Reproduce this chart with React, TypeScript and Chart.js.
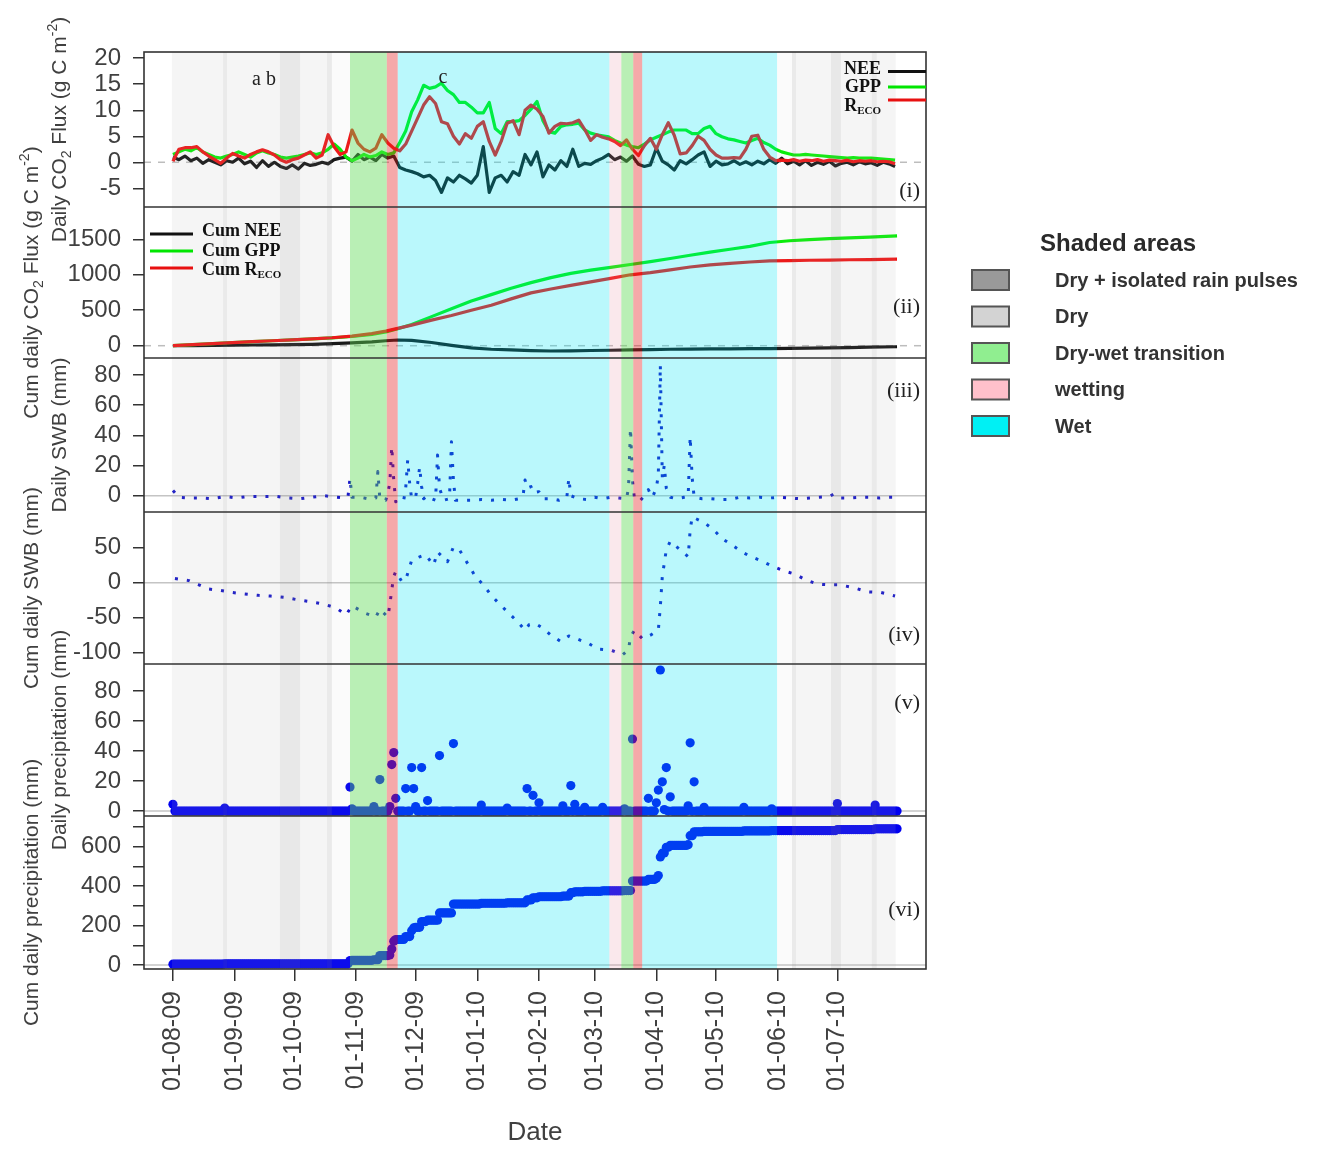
import { useEffect, useRef } from 'react';
import { Chart, registerables } from 'chart.js';

Chart.register(...registerables);

const SANS = '"Liberation Sans", Arial, sans-serif';
const SERIF = '"Liberation Serif", "Times New Roman", serif';
const W = 1322;
const H = 1149;

// ---------- x axis (days since 1 Aug 2009) ----------
const monthDays = [0, 31, 61, 92, 122, 153, 184, 212, 243, 273, 304, 334];
const monthLabels = ['01-08-09', '01-09-09', '01-10-09', '01-11-09', '01-12-09', '01-01-10', '01-02-10', '01-03-10', '01-04-10', '01-05-10', '01-06-10', '01-07-10'];

// ---------- panel (i): daily CO2 fluxes ----------
const fluxDays = [0, 3, 6, 9, 12, 15, 18, 21, 24, 27, 30, 33, 36, 39, 42, 45, 48, 51, 54, 57, 60, 63, 66, 69, 72, 75, 78, 81, 84, 87, 90, 93, 96, 99, 102, 105, 108, 111, 114, 117, 120, 123, 126, 129, 132, 135, 138, 141, 144, 147, 150, 153, 156, 159, 162, 165, 168, 171, 174, 177, 180, 183, 186, 189, 192, 195, 198, 201, 204, 207, 210, 213, 216, 219, 222, 225, 228, 231, 234, 237, 240, 243, 246, 249, 252, 255, 258, 261, 264, 267, 270, 273, 276, 279, 282, 285, 288, 291, 294, 297, 300, 303, 306, 309, 312, 315, 318, 321, 324, 327, 330, 333, 336, 339, 342, 345, 348, 351, 354, 357, 360, 363];
const recoDaily = [
  0.2, 2.5, 2.8, 2.8, 3, 2, 1.2, 0.5, -0.2, 0.8,
  1.7, 1.2, 0.8, 1.5, 2, 2.4, 2, 1.4, 0.5, 0,
  0.5, 0.8, 1.4, 2, 0.8, 1.4, 5.3, 3, 1.5, 2,
  6.2, 3.7, 2.5, 2, 2.7, 5.3, 3.7, 2.7, 2.2, 3.5,
  6, 8.5, 11, 12.6, 11.3, 7.8, 7.4, 5, 3.5, 5.5,
  4.6, 6.9, 7.8, 4, 1.4, 4, 7.5, 8, 5.3, 10,
  11, 10.2, 8.8, 5.6, 6.9, 7.5, 7.4, 7.6, 8.1, 6.3,
  4.2, 5.3, 4.8, 4.5, 4, 3.2, 4.3, 2.5, 1.3, 3.2,
  4.6, 2.5, 5.3, 7.6, 5.2, 1.6, 1.8, 3.2, 5, 4.2,
  2.5, 1.4, 0.8, 0.8, 0.9, 0.8, 2.5, 5, 5.2, 2.5,
  1, 0.3, 0.4, 0.3, 0.5, 0.2, 0.4, 0.3, 0.5, 0.2,
  0.4, 0.3, 0.2, 0.4, 0.1, 0.3, 0.2, 0.3, 0.1, 0.2,
  0.1, -0.3,
];
const gppDaily = [
  1.5, 2, 2.5, 2.2, 2.8, 2, 1.5, 1, 0.8, 1.2,
  1.5, 2, 1.5, 1, 1.8, 2.2, 1.8, 1.5, 1, 0.8,
  1, 1.2, 1.5, 1.8, 1.5, 1.8, 2.5, 3.5, 2.5, 1,
  0.3, 0.8, 1.5, 1, 1.3, 2, 1.5, 1.8, 3.8, 6,
  9.7, 12, 14.8, 14.2, 14.5, 15.2, 13.8, 13, 11.5, 11.5,
  10.6, 9.5, 9.5, 11.5, 6.5, 5.5, 7.8, 7.8, 8, 9,
  10.2, 11.7, 8, 5.9, 5.6, 6.9, 7.2, 7.3, 7.5, 6.2,
  5.6, 5.3, 5.1, 4.9, 4.2, 3.7, 3.3, 3, 2.8, 3.5,
  4.3, 4.8, 5.3, 5.8, 6.2, 6.2, 6.2, 5.5, 5.5, 6.5,
  6.9, 5.5, 4.9, 4.5, 4.3, 4, 3.7, 4.2, 4.6, 3.8,
  3.3, 2.5, 2, 1.7, 1.4, 1.4, 1.5, 1.4, 1.3, 1.2,
  1.1, 1, 0.9, 0.8, 0.9, 0.8, 0.8, 0.8, 0.7, 0.6,
  0.5, 0.4,
];
const neeDaily = [
  1, 0.5, 1.2, 0.3, 0.8, -0.2, 0.5, 0, -0.5, 0.3,
  0, 0.8, -0.3, 0.2, -1, 0.3, -0.8, 0, -0.8, -1.2,
  -0.5, -1.3, -0.2, -0.6, -0.4, 0, -0.3, 0.5, 0.8, 1,
  0.2, 1.5, 0.5, 1, 0.3, 1.5, 0.8, 1.2, -1, -1.5,
  -1.8, -2.2, -2.8, -2.5, -3.5, -5.8, -3, -3.8, -2.5, -3.2,
  -4, -2.5, 3, -5.8, -3, -2.5, -3.8, -1.8, -2.5, 1.5,
  -0.5, 2, -2.8, -0.5, -1.5, 0.3, -0.8, 2.5, -0.8, -0.2,
  -0.4, 0.3, 0.8, 1.5, 0.5, 1, 0.2, 1.2, -0.4, -0.8,
  -0.5, 2.7, 0.2, -0.5, -1.5, 0.3, -0.3, 0.5, 1.4, 2,
  -0.8, 0.2, -0.5, -0.3, 0.3, -0.4, 0.1, -0.5, 0.2, -0.3,
  0.5, -0.2, 0.8, -0.3, 0.2, -0.5, 0.3, -0.6, 0, -0.4,
  0.2, -0.7, -0.2, 0, -0.5, 0.1, -0.3, -0.1, -0.6, 0,
  -0.3, -0.8,
];

// ---------- panel (ii): cumulative CO2 fluxes ----------
const cumDays = [0, 10, 20, 30, 40, 50, 60, 70, 80, 90, 100, 107, 113, 120, 130, 140, 150, 160, 170, 180, 190, 200, 210, 220, 230, 240, 250, 260, 270, 280, 290, 300, 310, 320, 330, 340, 350, 364];
const cumGpp = [0, 15, 30, 45, 58, 70, 82, 95, 110, 130, 160, 195, 240, 300, 410, 520, 630, 720, 810, 890, 960, 1020, 1065, 1105, 1145, 1185, 1230, 1275, 1320, 1360, 1400, 1455, 1480, 1495, 1510, 1520, 1530, 1550];
const cumReco = [0, 15, 30, 44, 58, 70, 82, 96, 112, 135, 170, 205, 245, 290, 360, 425, 500, 570, 660, 745, 800, 850, 900, 950, 1000, 1030, 1070, 1110, 1140, 1160, 1180, 1195, 1200, 1205, 1208, 1212, 1215, 1220];
const cumNee = [0, 2, 5, 8, 10, 12, 15, 20, 28, 40, 55, 70, 80, 75, 45, 5, -30, -50, -60, -70, -75, -72, -68, -64, -60, -55, -50, -48, -46, -44, -42, -40, -38, -35, -30, -26, -20, -15];

// ---------- panel (iii): daily soil water balance ----------
const swbDays = [
  0, 3, 8, 14, 20, 26, 32, 38, 45, 52,
  58, 64, 70, 76, 82, 86, 88, 89, 90, 94,
  98, 102, 103, 104, 107, 108, 109, 110, 111, 112,
  114, 116, 117, 118, 119, 120, 122, 123, 124, 125,
  126, 128, 130, 132, 133, 134, 136, 139, 140, 141,
  142, 146, 150, 155, 160, 165, 170, 174, 176, 177,
  178, 180, 181, 184, 186, 190, 194, 198, 199, 200,
  204, 208, 212, 216, 220, 224, 228, 229, 230, 231,
  232, 235, 237, 239, 241, 243, 244, 245, 246, 247,
  248, 250, 253, 257, 259, 260, 261, 262, 266, 270,
  275, 280, 285, 290, 295, 300, 305, 310, 315, 320,
  325, 330, 332, 335, 340, 345, 350, 355, 360, 364,
];
const swbDaily = [
  3.5, -1, -1.5, -1.5, -2, -0.5, -1.5, -0.5, -0.5, -0.5,
  -1.5, -2, -1, 0, -1, -1.5, -0.5, 11.5, -1, -1,
  -2, -1.5, 16, -2, -3, 2, 8, 32.5, 10, -4,
  -2, -3, 5, 23.7, 8, -2, -1, 8, 19, 6,
  -2, 0, -2, -3, 27, 5, -3, -2, 35.8, 10,
  -3, -3, -3, -2.5, -3, -2.5, -3, -2, 0, 10.4,
  5, 6, 2, 2.7, -2, -2, -3, -1, 11.5, 0,
  -2, -2.5, -1, -2, -1, -1.5, -2, 5, 44.7, 10,
  -2, -3, 0, 4, -1, 5, 14, 86.7, 12, 20,
  5, -1, -2, -1, -0.5, 39, 12, -1, -2, -2,
  -2.5, -2.5, -1, -1.5, -1, -1.5, -1, -1.5, -2, -1.5,
  -1, -0.5, 1, -1.5, -1.5, -1, -1, -1.5, -1, -1,
];

// ---------- panel (iv): cumulative soil water balance ----------
const cumSwbDays = [
  1, 8, 13, 18, 24, 30, 36, 43, 49, 56,
  62, 69, 75, 82, 87, 90, 97, 102, 104, 108,
  109, 110, 111, 112, 115, 117, 120, 124, 127, 131,
  133, 138, 141, 144, 148, 152, 156, 160, 164, 169,
  174, 177, 179, 182, 186, 190, 195, 199, 203, 209,
  214, 220, 226, 229, 230, 232, 236, 240, 244, 245,
  246, 247, 248, 250, 255, 259, 260, 261, 267, 272,
  276, 281, 286, 290, 296, 301, 307, 313, 318, 324,
  330, 335, 342, 349, 356, 363,
];
const cumSwb = [
  6, 3, -3, -9, -11, -14, -16, -18, -19, -21,
  -24, -27, -30, -36, -46, -33, -44, -49, -38, -49,
  -32, -10, 9, 16, 2, 4, 32, 37, 40, 25,
  44, 30, 51, 47, 28, 9, -3, -18, -30, -44,
  -58, -68, -60, -58, -65, -75, -84, -76, -80, -87,
  -95, -96, -103, -96, -77, -68, -80, -75, -68, -34,
  9, 28, 47, 59, 47, 37, 75, 94, 86, 75,
  63, 54, 44, 38, 31, 24, 17, 12, 4, -2,
  -3, -3, -7, -13, -14, -19,
];

// ---------- panel (v)/(vi): rain events (all other days: 0 mm) ----------
const lastDay = 364;
const rainDays = [0, 26, 89, 90, 101, 104, 109, 110, 111, 112, 117, 120, 121, 122, 125, 128, 134, 141, 155, 168, 178, 181, 184, 196, 200, 202, 207, 216, 227, 231, 239, 243, 244, 245, 246, 247, 248, 250, 259, 260, 262, 267, 287, 301, 334, 353];
const rainMm = [4.5, 2, 16, 1.5, 3, 21, 3, 31, 39, 8.5, 15, 29, 15, 3, 29, 7, 37, 45, 4, 2, 15, 10.5, 5.5, 3.5, 17, 4.5, 2.5, 2.5, 1.5, 48, 8.5, 5.5, 14, 94, 19.5, 1, 29, 9.5, 3.5, 45.5, 19.5, 2.5, 2.5, 1.5, 5, 4];

// ---------- panel axes ----------
const axisIds = ['y1', 'y2', 'y3', 'y4', 'y5', 'y6'];
const panelWeights = [155, 151, 154, 152, 152, 153];
const panelMin = [-8.6, -173.5, -10.8, -116.1, -3.3, -20];
const panelMax = [21.2, 1956, 91.3, 101, 98, 756];
const panelTicks = [
  [-5, 0, 5, 10, 15, 20],
  [0, 500, 1000, 1500],
  [0, 20, 40, 60, 80],
  [-100, -50, 0, 50],
  [0, 20, 40, 60, 80],
  [0, 100, 200, 300, 400, 500, 600, 700],
];
const panelTags = ['(i)', '(ii)', '(iii)', '(iv)', '(v)', '(vi)'];

// ---------- shaded periods (days) ----------
const bandStart = [-0.5, 25.2, 27.2, 53.8, 63.9, 77.4, 79.9, 89, 107.5, 113, 219.4, 225.4, 231.4, 235.9, 303.7, 311.2, 313.2, 330.8, 335.8, 351.3, 353.8];
const bandEnd = [25.2, 27.2, 53.8, 63.9, 77.4, 79.9, 89, 107.5, 113, 219.4, 225.4, 231.4, 235.9, 303.7, 311.2, 313.2, 330.8, 335.8, 351.3, 353.8, 363.3];
const bandKind = ['dry', 'dryEdge', 'dry', 'pulse', 'dry', 'dryEdge', 'dryFaint', 'transition', 'wetting', 'wet', 'wettingFaint', 'transition', 'wetting', 'wet', 'dryFaint', 'dryEdge', 'dry', 'pulse', 'dry', 'dryEdge', 'dry'];
const bandFill: Record<string, string> = {
  dry: 'rgba(180,180,180,0.13)',
  dryEdge: 'rgba(150,150,150,0.2)',
  pulse: 'rgba(150,150,150,0.22)',
  dryFaint: 'rgba(180,180,180,0.06)',
  transition: 'rgba(100,220,90,0.45)',
  wetting: 'rgba(230,40,40,0.4)',
  wettingFaint: 'rgba(230,150,170,0.22)',
  wet: 'rgba(0,230,245,0.27)',
};

const legendNames = ['Dry + isolated rain pulses', 'Dry', 'Dry-wet transition', 'wetting', 'Wet'];
const legendColors = ['#999999', '#d3d3d3', '#90ee90', '#ffc0cb', '#00f0f4'];

type Seg = { t: string; s: number; dy?: number };

function drawSegs(ctx: CanvasRenderingContext2D, segs: Seg[], x: number, y: number, align: 'left' | 'center' | 'right', family: string, weight: string, color: string, rotate = false) {
  ctx.save();
  ctx.translate(x, y);
  if (rotate) ctx.rotate(-Math.PI / 2);
  ctx.fillStyle = color;
  ctx.textAlign = 'left';
  ctx.textBaseline = 'alphabetic';
  const widths = segs.map((sg) => {
    ctx.font = `${weight} ${sg.s}px ${family}`;
    return ctx.measureText(sg.t).width;
  });
  const total = widths.reduce((a, b) => a + b, 0);
  let cx = align === 'center' ? -total / 2 : align === 'right' ? -total : 0;
  const base = segs[0].s * 0.36;
  segs.forEach((sg, i) => {
    ctx.font = `${weight} ${sg.s}px ${family}`;
    ctx.fillText(sg.t, cx, base + (sg.dy || 0));
    cx += widths[i];
  });
  ctx.restore();
}

const yTitles: Seg[][] = [
  [{ t: 'Daily CO', s: 21 }, { t: '2', s: 14, dy: 5 }, { t: ' Flux (g C m', s: 21 }, { t: '-2', s: 14, dy: -9 }, { t: ')', s: 21 }],
  [{ t: 'Cum daily CO', s: 21 }, { t: '2', s: 14, dy: 5 }, { t: ' Flux (g C m', s: 21 }, { t: '-2', s: 14, dy: -9 }, { t: ')', s: 21 }],
  [{ t: 'Daily SWB (mm)', s: 21 }],
  [{ t: 'Cum daily SWB (mm)', s: 21 }],
  [{ t: 'Daily precipitation (mm)', s: 21 }],
  [{ t: 'Cum daily precipitation (mm)', s: 21 }],
];
const tagY = [191, 307, 391, 635, 703, 910];

const panelPlugin = {
  id: 'panelPlugin',
  beforeDatasetsDraw(chart: any) {
    const { ctx, chartArea } = chart;
    ctx.save();
    axisIds.forEach((id, i) => {
      const y = chart.scales[id].getPixelForValue(0);
      ctx.beginPath();
      ctx.lineWidth = 1.5;
      ctx.strokeStyle = i < 2 ? '#bdbdbd' : '#c4c4c4';
      ctx.setLineDash(i < 2 ? [7, 7] : []);
      ctx.moveTo(chartArea.left, y);
      ctx.lineTo(chartArea.right, y);
      ctx.stroke();
    });
    ctx.restore();
  },
  afterDatasetsDraw(chart: any) {
    const { ctx, chartArea } = chart;
    const xs = chart.scales.x;
    ctx.save();
    bandStart.forEach((s, i) => {
      const x0 = xs.getPixelForValue(s);
      const x1 = xs.getPixelForValue(bandEnd[i]);
      ctx.fillStyle = bandFill[bandKind[i]];
      ctx.fillRect(x0, chartArea.top, x1 - x0, chartArea.bottom - chartArea.top);
    });
    ctx.strokeStyle = '#333';
    ctx.lineWidth = 1.6;
    for (let i = 0; i < 5; i++) {
      const y = chart.scales[axisIds[i]].bottom;
      ctx.beginPath();
      ctx.moveTo(chartArea.left, y);
      ctx.lineTo(chartArea.right, y);
      ctx.stroke();
    }
    ctx.strokeRect(chartArea.left, chartArea.top, chartArea.right - chartArea.left, chartArea.bottom - chartArea.top);
    ctx.restore();
  },
  afterDraw(chart: any) {
    const { ctx, chartArea } = chart;
    ctx.save();
    axisIds.forEach((id, i) => {
      const sc = chart.scales[id];
      const cy = (sc.top + sc.bottom) / 2;
      drawSegs(ctx, yTitles[i], i % 2 === 0 ? 58 : 30, cy, 'center', SANS, 'normal', '#404040', true);
    });
    panelTags.forEach((tag, i) => {
      ctx.font = `22px ${SERIF}`;
      ctx.fillStyle = '#222';
      ctx.textAlign = 'right';
      ctx.textBaseline = 'middle';
      ctx.fillText(tag, chartArea.right - 6, tagY[i]);
    });
    ctx.font = `20px ${SERIF}`;
    ctx.fillStyle = '#222';
    ctx.textAlign = 'center';
    ctx.textBaseline = 'middle';
    ctx.fillText('a b', 264, 80);
    ctx.fillText('c', 443, 78);
    const l1 = [
      { segs: [{ t: 'NEE', s: 18 }], ty: 68, ly: 71.5, color: '#111' },
      { segs: [{ t: 'GPP', s: 18 }], ty: 86, ly: 87, color: '#00e600' },
      { segs: [{ t: 'R', s: 18 }, { t: 'ECO', s: 11, dy: 3 }], ty: 105, ly: 100, color: '#e81010' },
    ];
    l1.forEach((it) => {
      drawSegs(ctx, it.segs, 881, it.ty, 'right', SERIF, 'bold', '#111');
      ctx.beginPath();
      ctx.strokeStyle = it.color;
      ctx.lineWidth = 3;
      ctx.moveTo(888, it.ly);
      ctx.lineTo(chartArea.right, it.ly);
      ctx.stroke();
    });
    const l2 = [
      { segs: [{ t: 'Cum NEE', s: 18 }], ty: 230, ly: 234, color: '#111' },
      { segs: [{ t: 'Cum GPP', s: 18 }], ty: 250, ly: 251, color: '#00e600' },
      { segs: [{ t: 'Cum R', s: 18 }, { t: 'ECO', s: 11, dy: 3 }], ty: 269, ly: 268, color: '#e81010' },
    ];
    l2.forEach((it) => {
      drawSegs(ctx, it.segs, 202, it.ty, 'left', SERIF, 'bold', '#111');
      ctx.beginPath();
      ctx.strokeStyle = it.color;
      ctx.lineWidth = 3;
      ctx.moveTo(150, it.ly);
      ctx.lineTo(193, it.ly);
      ctx.stroke();
    });
    ctx.font = `26px ${SANS}`;
    ctx.fillStyle = '#404040';
    ctx.textAlign = 'center';
    ctx.textBaseline = 'middle';
    ctx.fillText('Date', 535, 1133);
    ctx.font = `bold 24px ${SANS}`;
    ctx.fillStyle = '#2a2a2a';
    ctx.textAlign = 'left';
    ctx.fillText('Shaded areas', 1040, 244);
    legendNames.forEach((name, i) => {
      const cy = 280 + i * 36.5;
      ctx.fillStyle = legendColors[i];
      ctx.fillRect(972, cy - 10, 37, 20);
      ctx.strokeStyle = '#555';
      ctx.lineWidth = 2;
      ctx.strokeRect(972, cy - 10, 37, 20);
      ctx.font = `bold 20px ${SANS}`;
      ctx.fillStyle = '#333';
      ctx.fillText(name, 1055, cy + 1);
    });
    ctx.restore();
  },
};

function yAxis(i: number) {
  return {
    type: 'linear',
    position: 'left',
    stack: 'panels',
    stackWeight: panelWeights[i],
    weight: 6 - i,
    min: panelMin[i],
    max: panelMax[i],
    afterBuildTicks: (s: any) => {
      s.ticks = panelTicks[i].map((v) => ({ value: v }));
    },
    afterFit: (s: any) => {
      s.width = 144;
    },
    border: { display: false },
    grid: { drawOnChartArea: false, drawTicks: true, tickLength: 11, color: '#333', lineWidth: 1.5 },
    ticks: {
      autoSkip: false,
      font: { size: 24, family: SANS },
      color: '#404040',
      padding: 12,
      callback: (v: number) => (i === 5 && v % 200 !== 0 ? '' : String(v)),
    },
  };
}

export default function App() {
  const ref = useRef<HTMLCanvasElement>(null);
  useEffect(() => {
    const canvas = ref.current;
    if (!canvas) return;
    const pts = (xs: number[], ys: number[]) => xs.map((x, i) => ({ x, y: ys[i] }));
    const allDays: number[] = [];
    for (let d = 0; d <= lastDay; d++) allDays.push(d);
    const precip = allDays.map((d) => {
      const k = rainDays.indexOf(d);
      return k >= 0 ? rainMm[k] : 0;
    });
    let run = 0;
    const cumPrecip = precip.map((p) => (run += p));

    const line = (data: any, axis: string, color: string, order: number, width = 3, dash: number[] = []) => ({
      data,
      order,
      yAxisID: axis,
      xAxisID: 'x',
      borderColor: color,
      borderWidth: width,
      borderDash: dash,
      borderCapStyle: 'butt',
      borderJoinStyle: 'round',
      pointRadius: 0,
      tension: 0,
      fill: false,
    });
    const dots = (data: any, axis: string) => ({
      data,
      order: 1,
      yAxisID: axis,
      xAxisID: 'x',
      showLine: false,
      pointRadius: 4.6,
      pointBorderWidth: 0,
      pointBackgroundColor: '#0000f0',
      borderColor: '#0000f0',
    });

    const scales: any = {
      x: {
        type: 'linear',
        position: 'bottom',
        min: -14.56,
        max: 378.56,
        afterBuildTicks: (s: any) => {
          s.ticks = monthDays.map((v) => ({ value: v }));
        },
        afterFit: (s: any) => {
          s.height = H - 969;
        },
        border: { display: false },
        grid: { drawOnChartArea: false, drawTicks: true, tickLength: 12, color: '#333', lineWidth: 1.5 },
        ticks: {
          autoSkip: false,
          minRotation: 90,
          maxRotation: 90,
          padding: 10,
          font: { size: 25, family: SANS },
          color: '#404040',
          callback: (_v: number, idx: number) => monthLabels[idx],
        },
      },
    };
    axisIds.forEach((id, i) => {
      scales[id] = yAxis(i);
    });

    const chart = new Chart(canvas, {
      type: 'line',
      data: {
        datasets: [
          line(pts(fluxDays, recoDaily), 'y1', '#f01010', 1, 3.2),
          line(pts(fluxDays, gppDaily), 'y1', '#00f000', 2, 3.2),
          line(pts(fluxDays, neeDaily), 'y1', '#101010', 3, 3.2),
          line(pts(cumDays, cumReco), 'y2', '#f01010', 1, 3.2),
          line(pts(cumDays, cumGpp), 'y2', '#00f000', 2, 3.2),
          line(pts(cumDays, cumNee), 'y2', '#101010', 3, 3.2),
          line(pts(swbDays, swbDaily), 'y3', '#1010c8', 1, 3, [3, 9]),
          line(pts(cumSwbDays, cumSwb), 'y4', '#1010c8', 1, 3, [3, 9]),
          dots(pts(allDays, precip), 'y5'),
          dots(pts(allDays, cumPrecip), 'y6'),
        ] as any,
      },
      options: {
        responsive: false,
        animation: false,
        devicePixelRatio: 1,
        layout: { padding: { left: 0, top: 52, right: W - 926, bottom: 0 } },
        plugins: { legend: { display: false }, tooltip: { enabled: false } },
        scales,
      } as any,
      plugins: [panelPlugin],
    });
    return () => chart.destroy();
  }, []);

  return (
    <div style={{ position: 'absolute', left: 0, top: 0, width: W, height: H, background: '#fff' }}>
      <canvas ref={ref} width={W} height={H} style={{ width: W, height: H, display: 'block' }} />
    </div>
  );
}
